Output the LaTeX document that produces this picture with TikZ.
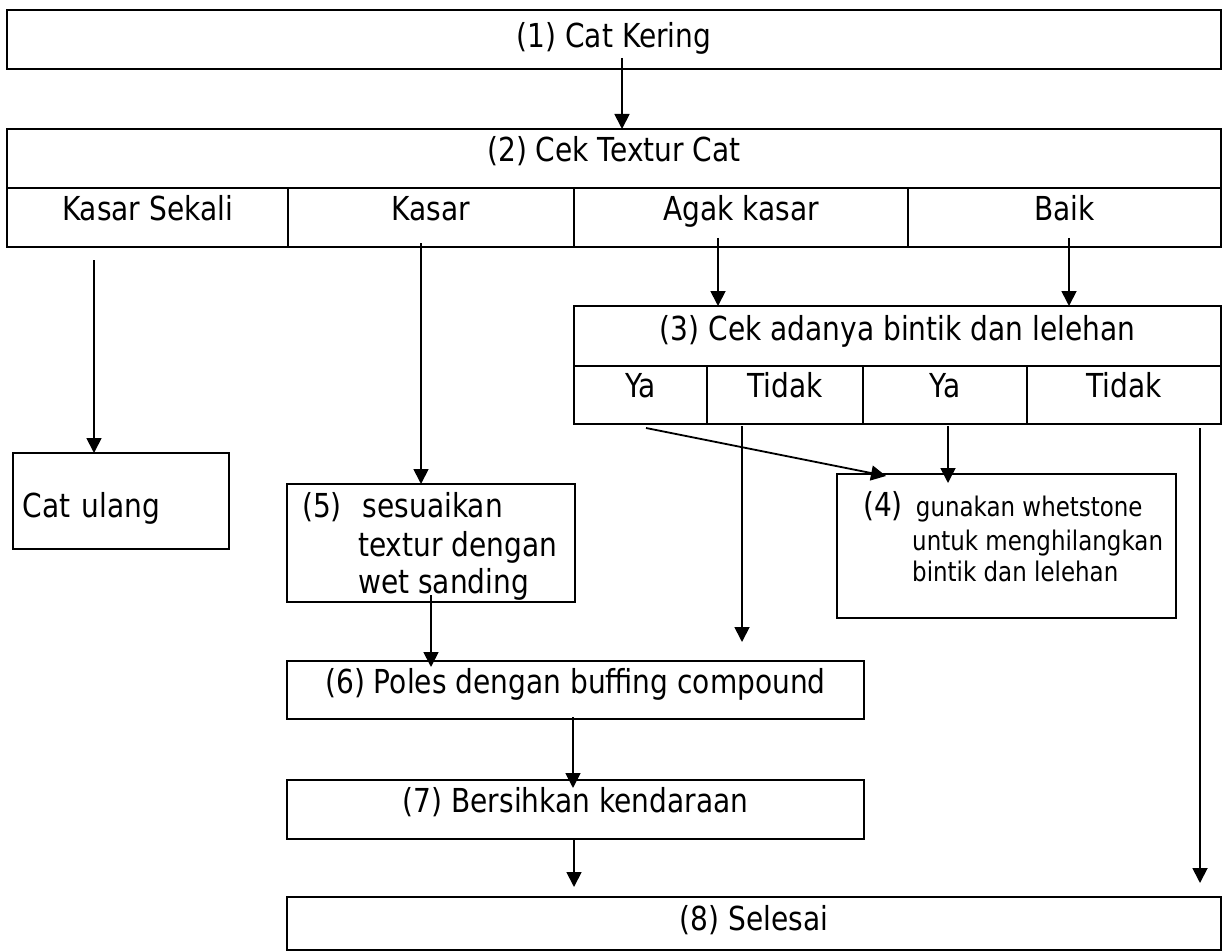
\documentclass[tikz,border=0pt]{standalone}
\usepackage{fontspec}
\setmainfont[FakeStretch=0.85]{DejaVu Sans}
\usetikzlibrary{arrows.meta}
\newcommand\bigf{\fontsize{33}{38}\selectfont}
\newcommand\smallf{\fontsize{27}{32}\selectfont}
\tikzset{
  cell/.style={draw, line width=2.1pt, rectangle, inner sep=0pt, outer sep=0pt, anchor=north west, font=\bigf},
  thin cell/.style={cell, line width=1.5pt},
  txt/.style={inner sep=0pt, anchor=base west, font=\bigf},
  stxt/.style={inner sep=0pt, anchor=base west, font=\smallf},
  arr/.style={line width=1.8pt, -{Triangle[length=15pt,width=15pt]}},
}
\begin{document}
\begin{tikzpicture}[x=1pt,y=-1pt]
\useasboundingbox[fill=white] (0,0) rectangle (1226,952);
% (1)
\node[cell, minimum width=1214pt, minimum height=59pt, text height=38pt, text depth=21pt] (c1) at (7,10) {(1) Cat Kering};
% (2)
\node[cell, minimum width=1214pt, minimum height=59pt, text height=33pt, text depth=26pt] (c2) at (7,129) {(2) Cek Textur Cat};
\node[cell, minimum width=281pt, minimum height=59pt, text height=33pt, text depth=26pt] (ks) at (7,188) {Kasar Sekali};
\node[cell, minimum width=286pt, minimum height=59pt, text height=33pt, text depth=26pt] (k) at (288,188) {Kasar};
\node[cell, minimum width=334pt, minimum height=59pt, text height=33pt, text depth=26pt] (ak) at (574,188) {Agak kasar};
\node[cell, minimum width=313pt, minimum height=59pt, text height=33pt, text depth=26pt] (bk) at (908,188) {Baik};
% (3)
\node[cell, minimum width=647pt, minimum height=60pt, text height=34pt, text depth=26pt] (c3) at (574,306) {(3) Cek adanya bintik dan lelehan};
\node[cell, minimum width=133pt, minimum height=58pt, text height=31pt, text depth=27pt] (ya1) at (574,366) {Ya};
\node[cell, minimum width=156pt, minimum height=58pt, text height=31pt, text depth=27pt] (td1) at (707,366) {Tidak};
\node[cell, minimum width=164pt, minimum height=58pt, text height=31pt, text depth=27pt] (ya2) at (863,366) {Ya};
\node[cell, minimum width=194pt, minimum height=58pt, text height=31pt, text depth=27pt] (td2) at (1027,366) {Tidak};
% Cat ulang
\node[thin cell, minimum width=216pt, minimum height=96pt, text width=196pt, inner xsep=10pt, align=left, text height=64pt, text depth=32pt] (cu) at (13,453) {Cat ulang};
% (5)
\node[cell, minimum width=288pt, minimum height=118pt] (c5) at (287,484) {};
\node[txt] (t5a) at (302,517) {(5)\hspace{21pt}sesuaikan};
\node[txt] (t5b) at (358,556) {textur dengan};
\node[txt] (t5c) at (358,593) {wet sanding};
% (4)
\node[thin cell, minimum width=339pt, minimum height=144pt] (c4) at (837,474) {};
\node[txt] (t4a) at (863,516) {(4)\hspace{13pt}{\smallf gunakan whetstone}};
\node[stxt] (t4b) at (912,550) {untuk menghilangkan};
\node[stxt] (t4c) at (912,581) {bintik dan lelehan};
% (6) (7) (8)
\node[cell, minimum width=577pt, minimum height=58pt, text height=32pt, text depth=26pt] (c6) at (287,661) {(6) Poles dengan buffing compound};
\node[cell, minimum width=577pt, minimum height=59pt, text height=32pt, text depth=27pt] (c7) at (287,780) {(7) Bersihkan kendaraan};
\node[cell, minimum width=934pt, minimum height=53pt, text height=33pt, text depth=20pt] (c8) at (287,897) {(8) Selesai};
% connector ends
\coordinate (s1) at (622,58);
\coordinate (sks) at (94,260);
\coordinate (sk) at (421,243);
\coordinate (sak) at (718,238);
\coordinate (sbk) at (1069,238);
\coordinate (sya1) at (646,428);
\coordinate (eya1) at (886,476);
\coordinate (std1) at (742,426);
\coordinate (etd1) at (742,642);
\coordinate (sya2) at (948,426);
\coordinate (eya2) at (948,483);
\coordinate (std2) at (1200,428);
\coordinate (etd2) at (1200,883);
\coordinate (s5) at (431,595);
\coordinate (e5) at (431,667);
\coordinate (s6) at (573,717);
\coordinate (e6) at (573,788);
\coordinate (s7) at (574,840);
\coordinate (e7) at (574,887);
% connectors
\draw[arr] (s1) -- (s1 |- c2.north);
\draw[arr] (sks) -- (sks |- cu.north);
\draw[arr] (sk) -- (sk |- c5.north);
\draw[arr] (sak) -- (sak |- c3.north);
\draw[arr] (sbk) -- (sbk |- c3.north);
\draw[arr] (sya1) -- (eya1);
\draw[arr] (std1) -- (etd1);
\draw[arr] (sya2) -- (eya2);
\draw[arr] (std2) -- (etd2);
\draw[arr] (s5) -- (e5);
\draw[arr] (s6) -- (e6);
\draw[arr] (s7) -- (e7);
\end{tikzpicture}
\end{document}
